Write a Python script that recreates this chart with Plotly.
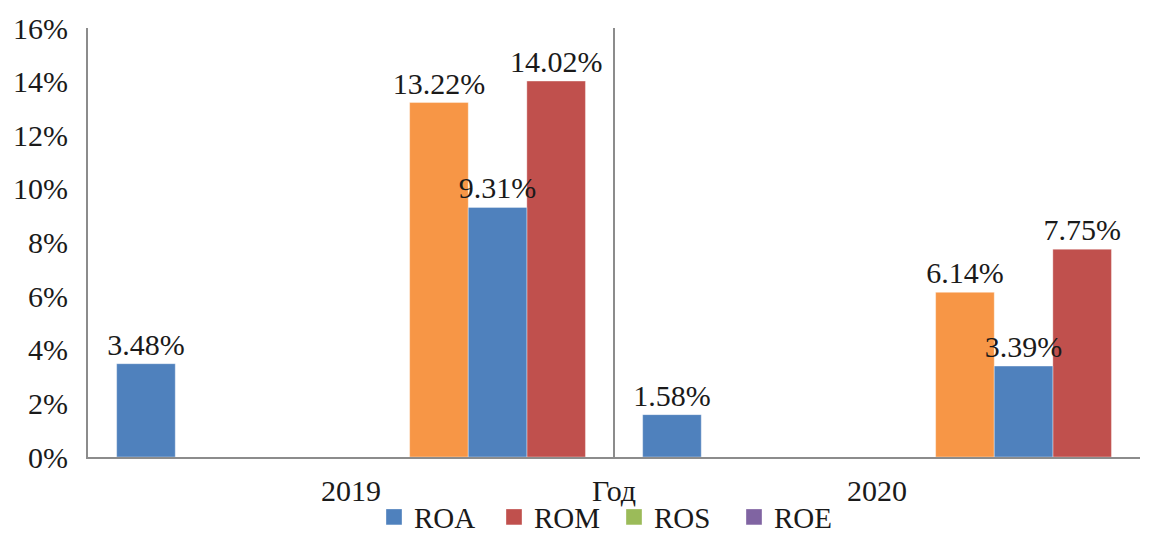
import plotly.graph_objects as go

years = ["2019", "2020"]
# eight series slots per year, as in the original Excel chart
roa = [3.48, 1.58]
rom = [None, None]
ros = [None, None]
roe = [None, None]
blank = [None, None]
orange_series = [13.22, 6.14]
blue_series = [9.31, 3.39]
red_series = [14.02, 7.75]
legend_names = ["ROA", "ROM", "ROS", "ROE"]

BLUE = "#4F81BD"
RED = "#C0504D"
GREEN = "#9BBB59"
PURPLE = "#8064A2"
ORANGE = "#F79646"
legend_colors = [BLUE, RED, GREEN, PURPLE]

FONT = "Liberation Serif"
TXT = "#1a1a1a"
FS = 30

bw = 0.1114
start = -0.4455

series = [
    # (name, values, color, slot)
    ("ROA", roa, BLUE, 0),
    ("ROM", rom, RED, 1),
    ("ROS", ros, GREEN, 2),
    ("ROE", roe, PURPLE, 3),
    ("", blank, "#999999", 4),
    ("", orange_series, ORANGE, 5),
    ("", red_series, RED, 7),
    ("", blue_series, BLUE, 6),  # drawn last so its label sits on top
]

fig = go.Figure()
for name, vals, color, slot in series:
    fig.add_trace(go.Bar(
        x=years, y=vals, name=name, showlegend=False,
        marker=dict(color=color, line=dict(color="rgba(255,255,255,0.35)", width=1)),
        width=bw, offset=start + slot * bw,
        text=[None if v is None else f"{v:.2f}%" for v in vals],
        textposition="outside", constraintext="none", cliponaxis=False,
        textfont=dict(family=FONT, size=FS, color=TXT),
    ))

# legend entries with larger square keys, as in the original
for name, color in zip(legend_names, legend_colors):
    fig.add_trace(go.Scatter(
        x=[None], y=[None], mode="markers", name=name,
        marker=dict(symbol="square", size=18, color=color,
                    line=dict(color="rgba(255,255,255,0.35)", width=1)),
    ))

fig.add_shape(type="line", xref="x", yref="paper", x0=0.5, x1=0.5, y0=0, y1=1,
              line=dict(color="#8c8c8c", width=2))

fig.add_annotation(text="Год", xref="paper", yref="paper", x=0.5, y=-0.077,
                   xanchor="center", yanchor="middle", showarrow=False,
                   font=dict(family=FONT, size=FS, color=TXT))

fig.update_layout(
    template="none",
    width=1145, height=534,
    margin=dict(l=80, r=13, t=20, b=85, autoexpand=False),
    barmode="overlay",
    paper_bgcolor="white", plot_bgcolor="white",
    font=dict(family=FONT, size=FS, color=TXT),
    showlegend=True,
    legend=dict(orientation="h", x=0.5, xanchor="center", y=-0.14, yanchor="middle",
                bgcolor="rgba(0,0,0,0)", itemsizing="trace",
                font=dict(family=FONT, size=29, color=TXT), itemwidth=30,
                entrywidth=75, entrywidthmode="pixels",
                traceorder="normal"),
    xaxis=dict(type="category", showline=True, linecolor="#8c8c8c", linewidth=2,
               showgrid=False, ticks="", ticklabelstandoff=6, automargin=False,
               tickfont=dict(family=FONT, size=FS, color=TXT), range=[-0.5, 1.5]),
    yaxis=dict(range=[0, 16], dtick=2, ticksuffix="%", showline=True, linecolor="#8c8c8c",
               linewidth=2, showgrid=False, ticks="", ticklabelstandoff=12, zeroline=False,
               automargin=False,
               tickfont=dict(family=FONT, size=FS, color=TXT)),
)

fig.write_html("out.html")
